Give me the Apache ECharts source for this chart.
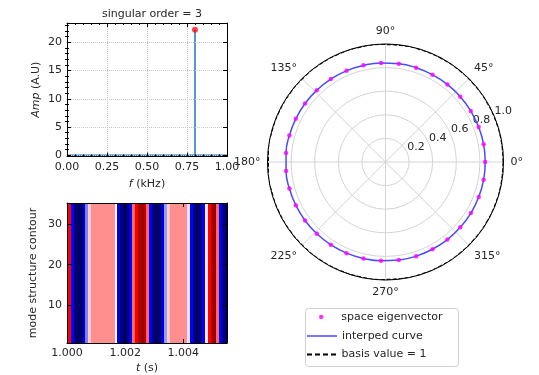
<!DOCTYPE html>
<html><head><meta charset="utf-8">
<script src="https://cdn.jsdelivr.net/npm/echarts@6/dist/echarts.min.js"></script>
<style>html,body{margin:0;padding:0;background:#fff}#c{width:539px;height:375px}</style>
</head><body><div id="c"></div>
<script>
// ---------------- data ----------------
const titleText = 'singular order = 3';
const freqRange = [0, 1.0];
const ampRange = [-0.2, 23.4];
const ampTicks = [0, 5, 10, 15, 20];
const ampMinorTicks = [1,2,3,4,6,7,8,9,11,12,13,14,16,17,18,19,21,22,23];
const peakFreq = [0.8];
const peakAmp = [22.2];
const baselineFreq = [0, 1.0];

const timeRange = [1.0, 1.0055];
const modeRange = [0.6, 35.3];
const modeTicks = [10, 20, 30];
const timeCols = [1.0000,1.0001,1.0002,1.0003,1.0004,1.0005,1.0006,1.0007,1.0008,1.0009,
  1.0010,1.0011,1.0012,1.0013,1.0014,1.0015,1.0016,1.0017,1.0018,1.0019,
  1.0020,1.0021,1.0022,1.0023,1.0024,1.0025,1.0026,1.0027,1.0028,1.0029,
  1.0030,1.0031,1.0032,1.0033,1.0034,1.0035,1.0036,1.0037,1.0038,1.0039,
  1.0040,1.0041,1.0042,1.0043,1.0044,1.0045,1.0046,1.0047,1.0048,1.0049,
  1.0050,1.0051,1.0052,1.0053,1.0054,1.0055];
const contourVals = [0.6,0.5,-0.5,-0.85,-0.95,-0.9,-0.6,-0.25,0.1,0.22,
  0.22,0.22,0.22,0.22,0.22,0.22,0.22,0.0,-0.6,-0.85,
  -0.95,-0.85,-0.55,0.3,0.55,0.8,0.9,0.75,0.3,-0.5,
  -0.85,-0.95,-0.9,-0.6,-0.2,0.1,0.22,0.22,0.22,0.22,
  0.22,0.22,-0.05,-0.5,-0.85,-0.95,-0.85,-0.5,0.05,0.5,
  0.8,0.9,0.3,-0.5,-0.85,-0.9];

const angleDeg = [0,10.29,20.57,30.86,41.14,51.43,61.71,72,82.29,92.57,
  102.86,113.14,123.43,133.71,144,154.29,164.57,174.86,185.14,195.43,
  205.71,216,226.29,236.57,246.86,257.14,267.43,277.71,288,298.29,
  308.57,318.86,329.14,339.43,349.71];
const eigenRadius = [0.845,0.845,0.843,0.842,0.842,0.841,0.840,0.840,0.840,0.840,
  0.840,0.841,0.842,0.842,0.843,0.844,0.845,0.846,0.846,0.845,
  0.844,0.843,0.842,0.841,0.840,0.838,0.838,0.838,0.839,0.840,
  0.841,0.842,0.843,0.844,0.845];
const basisValue = 1;
const legendNames = ['space eigenvector', 'interped curve', 'basis value = 1'];

// ---------------- chart ----------------
const FONT = 'DejaVu Sans';
const TXT = '#262626';
const chart = echarts.init(document.getElementById('c'), null, {renderer: 'canvas'});

function tickAxis(extra) {
  return Object.assign({
    type: 'value', z: 4,
    axisLine: {show: true, onZero: false, lineStyle: {color: '#000', width: 1}},
    axisTick: {show: true, inside: true, length: 4, lineStyle: {color: '#000', width: 1}},
    axisLabel: {show: false},
    splitLine: {show: false}
  }, extra);
}

const stemData = [];
peakFreq.forEach((f, i) => { stemData.push([f, 0], [f, peakAmp[i]], null); });
const halfCol = (timeCols[1] - timeCols[0]) / 2;
const cells = timeCols.map((t, i) => [t - halfCol, t + halfCol, contourVals[i]]);

function legendBlock(name, left, top, icon, w, h) {
  return {
    orient: 'vertical', left: left, top: top, itemWidth: w, itemHeight: h, padding: 0,
    icon: icon, data: [name], selectedMode: false,
    textStyle: {fontFamily: FONT, fontSize: 11, color: TXT}
  };
}
const dashIcon = 'path://M0,0h5v2h-5z M8,0h5v2h-5z M16,0h5v2h-5z M24,0h5v2h-5z';

const option = {
  animation: false,
  backgroundColor: '#fff',
  textStyle: {fontFamily: FONT, color: TXT},
  title: {text: titleText, left: 147, top: 4, textAlign: 'center',
    textStyle: {fontFamily: FONT, fontSize: 11, fontWeight: 'normal', color: TXT}},
  graphic: [{type: 'rect', left: 305, top: 308, z: -1,
    shape: {width: 153, height: 58, r: 3}, style: {fill: '#fff', stroke: '#d0d0d0', lineWidth: 1}}],
  grid: [
    {left: 67, top: 23, width: 160, height: 133.5, outerBoundsMode: 'none'},
    {left: 67, top: 203, width: 160, height: 140, outerBoundsMode: 'none'}
  ],
  xAxis: [
    tickAxis({gridIndex: 0, position: 'bottom', min: freqRange[0], max: freqRange[1], interval: 0.25,
      minorTick: {show: true, splitNumber: 5, length: 2, lineStyle: {color: '#000'}},
      splitLine: {show: true, lineStyle: {color: '#c8c8c8', type: 'dotted'}},
      axisLabel: {show: true, fontSize: 11, color: TXT, margin: 5, formatter: v => v.toFixed(2)},
      name: '{i|f} (kHz)', nameLocation: 'middle', nameGap: 22,
      nameTextStyle: {fontSize: 11, color: TXT, rich: {i: {fontStyle: 'italic', fontSize: 11}}}}),
    tickAxis({gridIndex: 0, position: 'top', min: freqRange[0], max: freqRange[1], interval: 0.25,
      minorTick: {show: true, splitNumber: 5, length: 2, lineStyle: {color: '#000'}}}),
    tickAxis({gridIndex: 1, position: 'bottom', min: timeRange[0], max: timeRange[1], interval: 0.002,
      axisLabel: {show: true, fontSize: 11, color: TXT, margin: 5, showMaxLabel: false,
        formatter: v => v.toFixed(3)},
      name: '{i|t} (s)', nameLocation: 'middle', nameGap: 20,
      nameTextStyle: {fontSize: 11, color: TXT, rich: {i: {fontStyle: 'italic', fontSize: 11}}}}),
    tickAxis({gridIndex: 1, position: 'top', min: timeRange[0], max: timeRange[1], interval: 0.002})
  ],
  yAxis: [
    tickAxis({gridIndex: 0, position: 'left', min: ampRange[0], max: ampRange[1],
      axisTick: {show: true, inside: true, length: 4, customValues: ampTicks, lineStyle: {color: '#000'}},
      axisLabel: {show: true, fontSize: 11, color: TXT, margin: 5, customValues: ampTicks},
      splitLine: {show: true, lineStyle: {color: '#c8c8c8', type: 'dotted'}},
      name: '{i|Amp} (A.U)', nameLocation: 'middle', nameGap: 25,
      nameTextStyle: {fontSize: 11, color: TXT, rich: {i: {fontStyle: 'italic', fontSize: 11}}}}),
    tickAxis({gridIndex: 0, position: 'right', min: ampRange[0], max: ampRange[1],
      axisTick: {show: true, inside: true, length: 4, customValues: ampTicks, lineStyle: {color: '#000'}}}),
    tickAxis({gridIndex: 0, position: 'left', min: ampRange[0], max: ampRange[1], axisLine: {show: false},
      axisTick: {show: true, inside: true, length: 2, customValues: ampMinorTicks, lineStyle: {color: '#000'}}}),
    tickAxis({gridIndex: 0, position: 'right', min: ampRange[0], max: ampRange[1], axisLine: {show: false},
      axisTick: {show: true, inside: true, length: 2, customValues: ampMinorTicks, lineStyle: {color: '#000'}}}),
    tickAxis({gridIndex: 1, position: 'left', min: modeRange[0], max: modeRange[1],
      axisTick: {show: true, inside: true, length: 4, customValues: modeTicks, lineStyle: {color: '#000'}},
      axisLabel: {show: true, fontSize: 11, color: TXT, margin: 5, customValues: modeTicks},
      name: 'mode structure contour', nameLocation: 'middle', nameGap: 28,
      nameTextStyle: {fontSize: 11, color: TXT}}),
    tickAxis({gridIndex: 1, position: 'right', min: modeRange[0], max: modeRange[1],
      axisTick: {show: true, inside: true, length: 4, customValues: modeTicks, lineStyle: {color: '#000'}}})
  ],
  polar: [
    {center: [385.5, 162], radius: 118},
    {center: [385.5, 162], radius: 118}
  ],
  angleAxis: [
    {polarIndex: 0, type: 'value', min: 0, max: 360, interval: 45, startAngle: 0, clockwise: false,
      axisLine: {show: true, lineStyle: {color: '#000', width: 1}},
      axisTick: {show: false},
      axisLabel: {fontSize: 11, color: TXT, margin: 7, formatter: v => (v >= 360 ? '' : v + '°')},
      splitLine: {show: true, lineStyle: {color: '#d4d4d4', width: 1}}},
    {polarIndex: 1, type: 'value', min: 0, max: 360, startAngle: 22.5, clockwise: false, show: false}
  ],
  radiusAxis: [
    {polarIndex: 0, type: 'value', min: 0, max: 1, interval: 0.2,
      axisLine: {show: false}, axisTick: {show: false}, axisLabel: {show: false},
      splitLine: {show: true, lineStyle: {color: '#d4d4d4', width: 1}}},
    {polarIndex: 1, type: 'value', min: 0, max: 1, interval: 0.2, z: 5,
      axisLine: {show: false}, axisTick: {show: false}, splitLine: {show: false},
      axisLabel: {show: true, fontSize: 11, color: TXT, margin: 0, showMinLabel: false,
        align: 'left', verticalAlign: 'bottom', formatter: v => v.toFixed(1)}}
  ],
  visualMap: {show: false, type: 'continuous', seriesIndex: 3, dimension: 2, min: -1, max: 1,
    inRange: {color: ['#00004d', '#0000ff', '#ffffff', '#ff0000', '#800000']}},
  legend: [
    legendBlock(legendNames[0], 319, 311.5, 'circle', 30, 4.5),
    legendBlock(legendNames[1], 307, 330.5, 'rect', 30, 1.5),
    legendBlock(legendNames[2], 307, 349, dashIcon, 30, 2)
  ],
  series: [
    {type: 'line', xAxisIndex: 0, yAxisIndex: 0, data: stemData, showSymbol: false, silent: true,
      lineStyle: {color: '#1f77b4', width: 1.5}, connectNulls: false, z: 2},
    {type: 'line', xAxisIndex: 0, yAxisIndex: 0, data: baselineFreq.map(f => [f, 0]), showSymbol: false,
      lineStyle: {color: '#1f77b4', width: 1.5}, z: 2},
    {type: 'scatter', xAxisIndex: 0, yAxisIndex: 0, data: peakFreq.map((f, i) => [f, peakAmp[i]]),
      symbolSize: 6, itemStyle: {color: '#ff1111'}, z: 3},
    {type: 'custom', xAxisIndex: 2, yAxisIndex: 4, data: cells, clip: true, z: 1,
      encode: {x: [0, 1]},
      renderItem: function (params, api) {
        const p0 = api.coord([api.value(0), modeRange[1]]);
        const p1 = api.coord([api.value(1), modeRange[0]]);
        return {type: 'rect', shape: {x: Math.floor(p0[0]), y: p0[1],
            width: Math.ceil(p1[0] - p0[0]) + 1, height: p1[1] - p0[1]},
          style: {fill: api.visual('color'), stroke: null}};
      }},
    {name: legendNames[0], type: 'scatter', coordinateSystem: 'polar', polarIndex: 0,
      data: angleDeg.map((a, i) => [eigenRadius[i], a]), symbolSize: 4.5,
      itemStyle: {color: '#ff00ff'}, z: 6},
    {name: legendNames[1], type: 'line', coordinateSystem: 'polar', polarIndex: 0,
      data: angleDeg.map((a, i) => [eigenRadius[i], a]).concat([[eigenRadius[0], 360]]),
      smooth: 0.5, showSymbol: false, symbol: 'none', itemStyle: {color: '#4a4aff'},
      lineStyle: {color: '#4a4aff', width: 1.5}, z: 5},
    {name: legendNames[2], type: 'line', coordinateSystem: 'polar', polarIndex: 0,
      data: angleDeg.map(a => [basisValue, a]).concat([[basisValue, 360]]),
      smooth: 0.5, showSymbol: false, symbol: 'none', itemStyle: {color: '#000'},
      lineStyle: {color: '#000', width: 2, type: [4, 2]}, z: 4}
  ]
};
chart.setOption(option);
</script></body></html>
